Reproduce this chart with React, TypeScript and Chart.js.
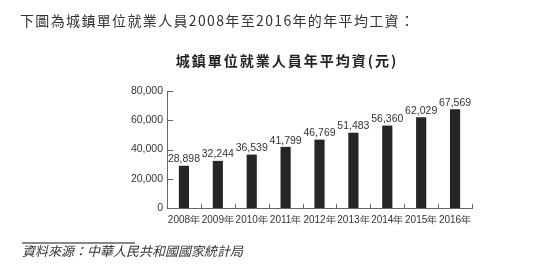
import React, { useEffect, useRef } from "react";
import { Chart, registerables } from "chart.js";

Chart.register(...registerables);

const categories = ["2008年", "2009年", "2010年", "2011年", "2012年", "2013年", "2014年", "2015年", "2016年"];
const wages = [28898, 32244, 36539, 41799, 46769, 51483, 56360, 62029, 67569];
const yTicks = [0, 20000, 40000, 60000, 80000];

const introText = "下圖為城鎮單位就業人員2008年至2016年的年平均工資：";
const chartTitle = "城鎮單位就業人員年平均資(元)";
const sourceText = "資料來源：中華人民共和國國家統計局";

const fmt = (v: number) => v.toLocaleString("en-US");
const FONT = "'Liberation Sans', Arial, sans-serif";

const decorPlugin = {
  id: "decor",
  afterDatasetsDraw(chart: any) {
    const ctx = chart.ctx;
    const xs = chart.scales.x;
    const ys = chart.scales.y;
    const area = chart.chartArea;
    ctx.save();
    ctx.strokeStyle = "#666";
    ctx.lineWidth = 1;
    yTicks.forEach((t) => {
      const y = Math.round(ys.getPixelForValue(t)) + 0.5;
      ctx.beginPath();
      ctx.moveTo(area.left, y);
      ctx.lineTo(area.left + 6, y);
      ctx.stroke();
    });
    const n = categories.length;
    for (let i = 1; i <= n; i++) {
      const x = Math.round(xs.getPixelForValue(i - 0.5)) + 0.5;
      ctx.beginPath();
      ctx.moveTo(x, area.bottom);
      ctx.lineTo(x, area.bottom - 4);
      ctx.stroke();
    }
    const meta = chart.getDatasetMeta(0);
    ctx.fillStyle = "#333";
    ctx.font = "10.5px " + FONT;
    ctx.textAlign = "center";
    ctx.textBaseline = "bottom";
    meta.data.forEach((bar: any, i: number) => {
      ctx.fillText(fmt(wages[i]), bar.x, bar.y - 1);
    });
    ctx.restore();
  },
};

export default function App() {
  const ref = useRef<HTMLCanvasElement>(null);
  useEffect(() => {
    if (!ref.current) return;
    const chart = new Chart(ref.current, {
      type: "bar",
      data: {
        labels: categories,
        datasets: [
          {
            data: wages,
            backgroundColor: "#262626",
            barPercentage: 0.3,
            categoryPercentage: 1,
          },
        ],
      },
      options: {
        animation: false,
        responsive: false,
        maintainAspectRatio: false,
        layout: { padding: { left: 100, right: 82, top: 91, bottom: 30 } },
        plugins: { legend: { display: false }, tooltip: { enabled: false }, title: { display: false } },
        scales: {
          x: {
            grid: { display: false, drawTicks: false },
            border: { display: true, color: "#666", width: 1 },
            ticks: {
              color: "#333",
              font: { size: 10, family: FONT },
              padding: 6,
              maxRotation: 0,
              autoSkip: false,
            },
            afterFit: (s: any) => {
              s.height = 266 - 208 - 30;
            },
          },
          y: {
            min: 0,
            max: 80000,
            afterBuildTicks: (s: any) => {
              s.ticks = yTicks.map((v) => ({ value: v }));
            },
            grid: { display: false, drawTicks: false },
            border: { display: true, color: "#666", width: 1 },
            ticks: {
              color: "#333",
              font: { size: 10.5, family: FONT },
              padding: 4,
              callback: (v: any) => fmt(Number(v)),
            },
            afterFit: (s: any) => {
              s.width = 67;
            },
          },
        },
      },
      plugins: [decorPlugin],
    });
    return () => chart.destroy();
  }, []);

  return (
    <div style={{ position: "fixed", left: 0, top: 0, width: 554, height: 266, background: "#fff", overflow: "hidden" }}>
      <canvas ref={ref} width={554} height={266} style={{ position: "absolute", left: 0, top: 0, width: 554, height: 266 }} />
      <div
        style={{
          position: "absolute",
          left: 20,
          top: 10,
          fontFamily: "'Noto Sans CJK TC', 'Liberation Sans', sans-serif",
          fontSize: 14,
          lineHeight: "20px",
          letterSpacing: 1.35,
          color: "#333",
          whiteSpace: "nowrap",
        }}
      >
        {introText}
      </div>
      <div
        style={{
          position: "absolute",
          left: 0,
          width: 574,
          top: 50,
          textAlign: "center",
          fontFamily: "'Noto Sans CJK TC', 'Liberation Sans', sans-serif",
          fontSize: 14,
          fontWeight: 600,
          lineHeight: "20px",
          letterSpacing: 2,
          color: "#222",
          whiteSpace: "nowrap",
        }}
      >
        {chartTitle}
      </div>
      <div style={{ position: "absolute", left: 22, top: 242, width: 113, height: 1.5, background: "#888" }} />
      <div
        style={{
          position: "absolute",
          left: 22,
          top: 242,
          fontFamily: "'Noto Sans CJK TC', serif",
          fontSize: 13,
          fontStyle: "italic",
          lineHeight: "18px",
          color: "#333",
          whiteSpace: "nowrap",
        }}
      >
        {sourceText}
      </div>
    </div>
  );
}
